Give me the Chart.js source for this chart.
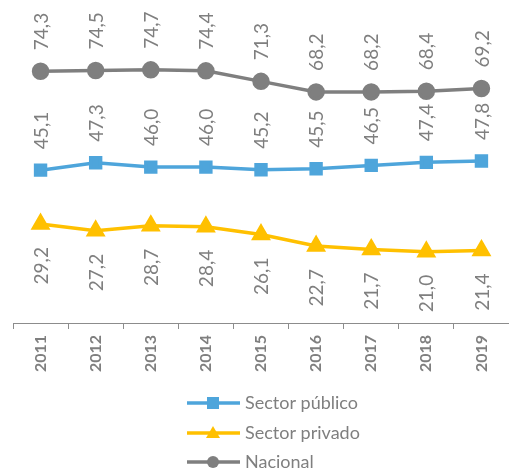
<!DOCTYPE html>
<html><head><meta charset="utf-8">
<script src="https://cdn.jsdelivr.net/npm/chart.js@4"></script>
<style>html,body{margin:0;padding:0;background:#fff;overflow:hidden;}#wrap{width:509px;height:470px;}</style>
</head><body><div id="wrap"><canvas id="c" width="509" height="470"></canvas></div>
<script>
const categories = ['2011','2012','2013','2014','2015','2016','2017','2018','2019'];
const publico = [45.1, 47.3, 46.0, 46.0, 45.2, 45.5, 46.5, 47.4, 47.8];
const privado = [29.2, 27.2, 28.7, 28.4, 26.1, 22.7, 21.7, 21.0, 21.4];
const nacional = [74.3, 74.5, 74.7, 74.4, 71.3, 68.2, 68.2, 68.4, 69.2];
const seriesNames = ['Sector público', 'Sector privado', 'Nacional'];

const BLUE = '#4EA5DB', GOLD = '#FFC000', GRAY = '#7F7F7F', TXT = '#7F7F7F';

const labelPlugin = {
  id: 'vlabels',
  afterDatasetsDraw(chart) {
    const ctx = chart.ctx;
    ctx.save();
    ctx.font = '19px Lato';
    ctx.fillStyle = TXT;
    ctx.textBaseline = 'middle';
    chart.data.datasets.forEach((ds, i) => {
      const meta = chart.getDatasetMeta(i);
      const below = ds.labelPos === 'below';
      meta.data.forEach((pt, j) => {
        const txt = ds.data[j].toFixed(1).replace('.', ',');
        ctx.save();
        ctx.translate(pt.x, below ? pt.y + 23 : pt.y - 21);
        ctx.rotate(-Math.PI / 2);
        ctx.textAlign = below ? 'right' : 'left';
        ctx.fillText(txt, 0, 1);
        ctx.restore();
      });
    });
    ctx.restore();
  }
};

const legendPlugin = {
  id: 'vlegend',
  afterDraw(chart) {
    const ctx = chart.ctx;
    const rows = [403, 433, 462];
    ctx.save();
    chart.data.datasets.forEach((ds, i) => {
      const y = rows[i];
      ctx.strokeStyle = ds.borderColor;
      ctx.lineWidth = 3.5;
      ctx.beginPath(); ctx.moveTo(187, y); ctx.lineTo(240, y); ctx.stroke();
      ctx.fillStyle = ds.borderColor;
      const cx = 213;
      if (ds.pointStyle === 'rect') { ctx.fillRect(cx - 6, y - 6, 12, 12); }
      else if (ds.pointStyle === 'triangle') {
        ctx.beginPath(); ctx.moveTo(cx, y - 7); ctx.lineTo(cx + 7, y + 5); ctx.lineTo(cx - 7, y + 5); ctx.closePath(); ctx.fill();
      } else { ctx.beginPath(); ctx.arc(cx, y, 6, 0, Math.PI * 2); ctx.fill(); }
      ctx.fillStyle = TXT;
      ctx.font = '18px Lato';
      ctx.textBaseline = 'middle';
      ctx.textAlign = 'left';
      ctx.fillText(seriesNames[i], 245, y);
    });
    ctx.restore();
  }
};

new Chart(document.getElementById('c'), {
  type: 'line',
  data: {
    labels: categories,
    datasets: [
      { label: seriesNames[0], data: publico, borderColor: BLUE, backgroundColor: BLUE, pointStyle: 'rect', pointRadius: 7, borderWidth: 3.5, labelPos: 'above' },
      { label: seriesNames[1], data: privado, borderColor: GOLD, backgroundColor: GOLD, pointStyle: 'triangle', pointRadius: 8, borderWidth: 3.5, labelPos: 'below' },
      { label: seriesNames[2], data: nacional, borderColor: GRAY, backgroundColor: GRAY, pointStyle: 'circle', pointRadius: 7, borderWidth: 3.5, labelPos: 'above' }
    ]
  },
  options: {
    responsive: false,
    animation: false,
    layout: { autoPadding: false, padding: { left: 13, top: 18, right: -3, bottom: 0 } },
    plugins: { legend: { display: false }, tooltip: { enabled: false } },
    scales: {
      y: { display: false, min: 0, max: 90 },
      x: {
        offset: true,
        grid: { offset: true, drawOnChartArea: false, drawTicks: true, tickLength: 6, color: '#8C8C8C' },
        border: { display: true, color: '#8C8C8C', width: 1 },
        ticks: { minRotation: 90, maxRotation: 90, padding: 6, color: TXT, font: { family: 'Lato', size: 16, weight: 'bold' } },
        afterFit(scale) { scale.height = 147; scale.paddingLeft = 0; scale.paddingRight = 0; }
      }
    }
  },
  plugins: [labelPlugin, legendPlugin]
});
</script></body></html>
